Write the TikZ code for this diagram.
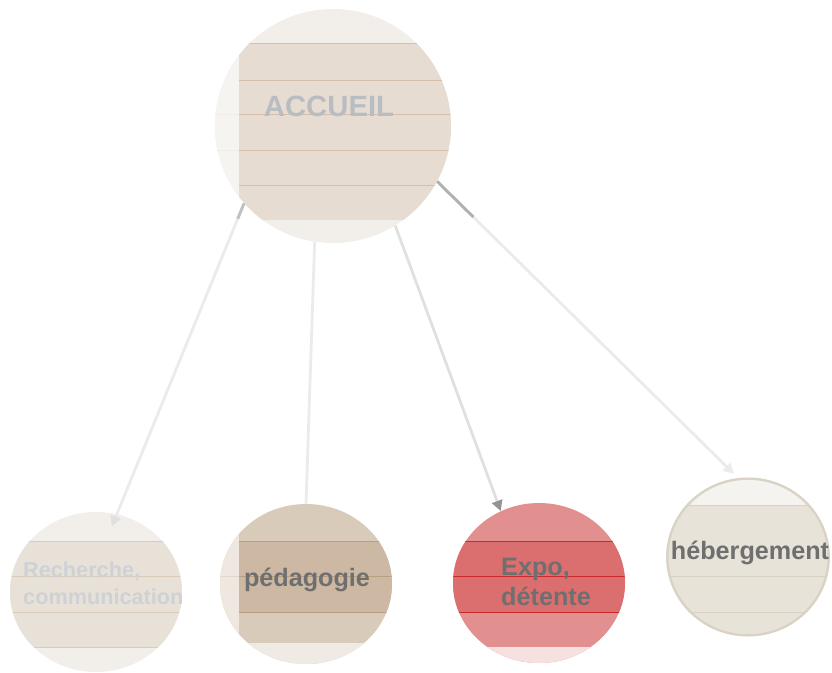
\documentclass[tikz,border=0pt]{standalone}
\usepackage{fontspec}
\setmainfont{Liberation Sans}
\usepackage{xcolor}
\usetikzlibrary{arrows.meta, positioning, calc, shapes.geometric}

\definecolor{accout}{HTML}{F2EEE9}
\definecolor{accpale}{HTML}{F6F4F1}
\definecolor{accband}{HTML}{E6DCD2}
\definecolor{accline}{HTML}{D7BEA6}
\definecolor{recout}{HTML}{F2EFEA}
\definecolor{recband}{HTML}{E8E1D7}
\definecolor{recline}{HTML}{DACAB6}
\definecolor{pedpale}{HTML}{EFE8E0}
\definecolor{pedmain}{HTML}{D9CBBA}
\definecolor{pedband}{HTML}{CDB9A3}
\definecolor{pedline}{HTML}{BC9E80}
\definecolor{pedlow}{HTML}{F0EAE4}
\definecolor{expout}{HTML}{E28F8F}
\definecolor{expband}{HTML}{DB6E6E}
\definecolor{expline}{HTML}{CC2A2A}
\definecolor{explow}{HTML}{F6E0E0}
\definecolor{hebtop}{HTML}{F5F3EF}
\definecolor{hebmain}{HTML}{E7E3D9}
\definecolor{hebline}{HTML}{D8D1C4}
\definecolor{hebring}{HTML}{DAD3C5}
\definecolor{txtdark}{HTML}{6F6F6F}
\definecolor{txtacc}{HTML}{B9BDC1}
\definecolor{txtrec}{HTML}{CED1D5}
\definecolor{linklight}{HTML}{EBEBEB}
\definecolor{linkmid}{HTML}{E0E0E0}
\definecolor{linkdark}{HTML}{B0B0B0}

\begin{document}
\begin{tikzpicture}[x=0.03cm, y=-0.03cm,
    disc/.style={ellipse, inner sep=0pt, minimum width=5.16cm, minimum height=4.8cm},
    stripe/.style={line width=0.5pt},
    lbl/.style={inner sep=0pt, text=txtdark, font=\bfseries\fontsize{21.5}{25}\selectfont, align=left},
    link/.style={line width=2.4pt, draw=linklight, -{Triangle[length=9pt, width=9pt]}}]
  \useasboundingbox (0,0) rectangle (832,673);

  \node[ellipse, inner sep=0pt, minimum width=7.08cm, minimum height=7.02cm, fill=accout] (accueil) at (333,126) {};
  \begin{scope}
    \clip (accueil.center) ellipse [x radius=3.54cm, y radius=3.51cm];
    \fill[accpale] (210,0) rectangle (239,250);
    \fill[accband] (239,43) rectangle (455,220);
    \foreach \y in {43,80,114,150,185}
      \draw[stripe, accline] (239,\y) -- (455,\y);
    \foreach \y in {114,150}
      \draw[stripe, accline!30] (210,\y) -- (239,\y);
  \end{scope}
  \node[inner sep=0pt, text=txtacc, font=\bfseries\fontsize{25}{28}\selectfont] (accueil-txt) at (329,106) {ACCUEIL};

  \node[disc, fill=recout] (recherche) at (96,592) {};
  \begin{scope}
    \clip (recherche.center) ellipse [x radius=2.58cm, y radius=2.4cm];
    \fill[recband] (0,541) rectangle (190,647);
    \foreach \y in {541,576,612,647}
      \draw[stripe, recline] (0,\y) -- (190,\y);
  \end{scope}
  \node[lbl, text=txtrec, font=\bfseries\fontsize{18.5}{23}\selectfont, anchor=west] (recherche-txt) at (23,583) {Recherche,\\communication};

  \node[disc, fill=pedmain] (pedagogie) at (306,584) {};
  \begin{scope}
    \clip (pedagogie.center) ellipse [x radius=2.58cm, y radius=2.4cm];
    \fill[pedband] (239,541) rectangle (400,612);
    \fill[pedlow] (210,643) rectangle (400,673);
    \fill[pedpale] (210,500) rectangle (239,673);
    \foreach \y in {541,576,612}
      \draw[stripe, pedline] (239,\y) -- (400,\y);
    \draw[stripe, pedline!40] (210,576) -- (239,576);
  \end{scope}
  \node[lbl] (pedagogie-txt) at (307,580) {pédagogie};

  \node[disc, fill=expout] (expo) at (539,583) {};
  \begin{scope}
    \clip (expo.center) ellipse [x radius=2.58cm, y radius=2.4cm];
    \fill[expband] (440,541) rectangle (640,612);
    \fill[explow] (440,647) rectangle (640,673);
    \foreach \y in {541,576,612}
      \draw[stripe, expline] (440,\y) -- (640,\y);
  \end{scope}
  \node[lbl, anchor=west] (expo-txt) at (501,582) {Expo,\\détente};

  \node[ellipse, inner sep=0pt, minimum width=4.9cm, minimum height=4.75cm, fill=hebmain] (hebergement) at (748,557) {};
  \begin{scope}
    \clip (hebergement.center) ellipse [x radius=2.45cm, y radius=2.375cm];
    \fill[hebtop] (660,470) rectangle (840,505);
    \foreach \y in {505,576,612}
      \draw[stripe, hebline] (660,\y) -- (840,\y);
  \end{scope}
  \draw[hebring, line width=2pt] (hebergement.center) ellipse [x radius=2.42cm, y radius=2.35cm];
  \node[lbl] (hebergement-txt) at (750,553) {hébergement};

  \draw[link, shorten >=-0.4cm, -{Triangle[length=9pt, width=9pt, color=linkmid]}] (accueil.221) -- (recherche.75);
  \draw[line width=2.4pt, draw=linkdark!80] (accueil.221) -- ($(accueil.221)!0.05!(recherche.75)$);
  \draw[line width=2.4pt, draw=linklight] (accueil.261) -- (pedagogie.north);
  \draw[link, draw=linkmid, -{Triangle[length=9pt, width=9pt, color=gray!85]}] (accueil.302) -- (expo.118);
  \draw[link, shorten >=0.18cm] (accueil.332) -- (hebergement.97);
  \draw[line width=2.4pt, draw=linkdark] (accueil.332) -- ($(accueil.332)!0.12!(hebergement.97)$);
\end{tikzpicture}
\end{document}
